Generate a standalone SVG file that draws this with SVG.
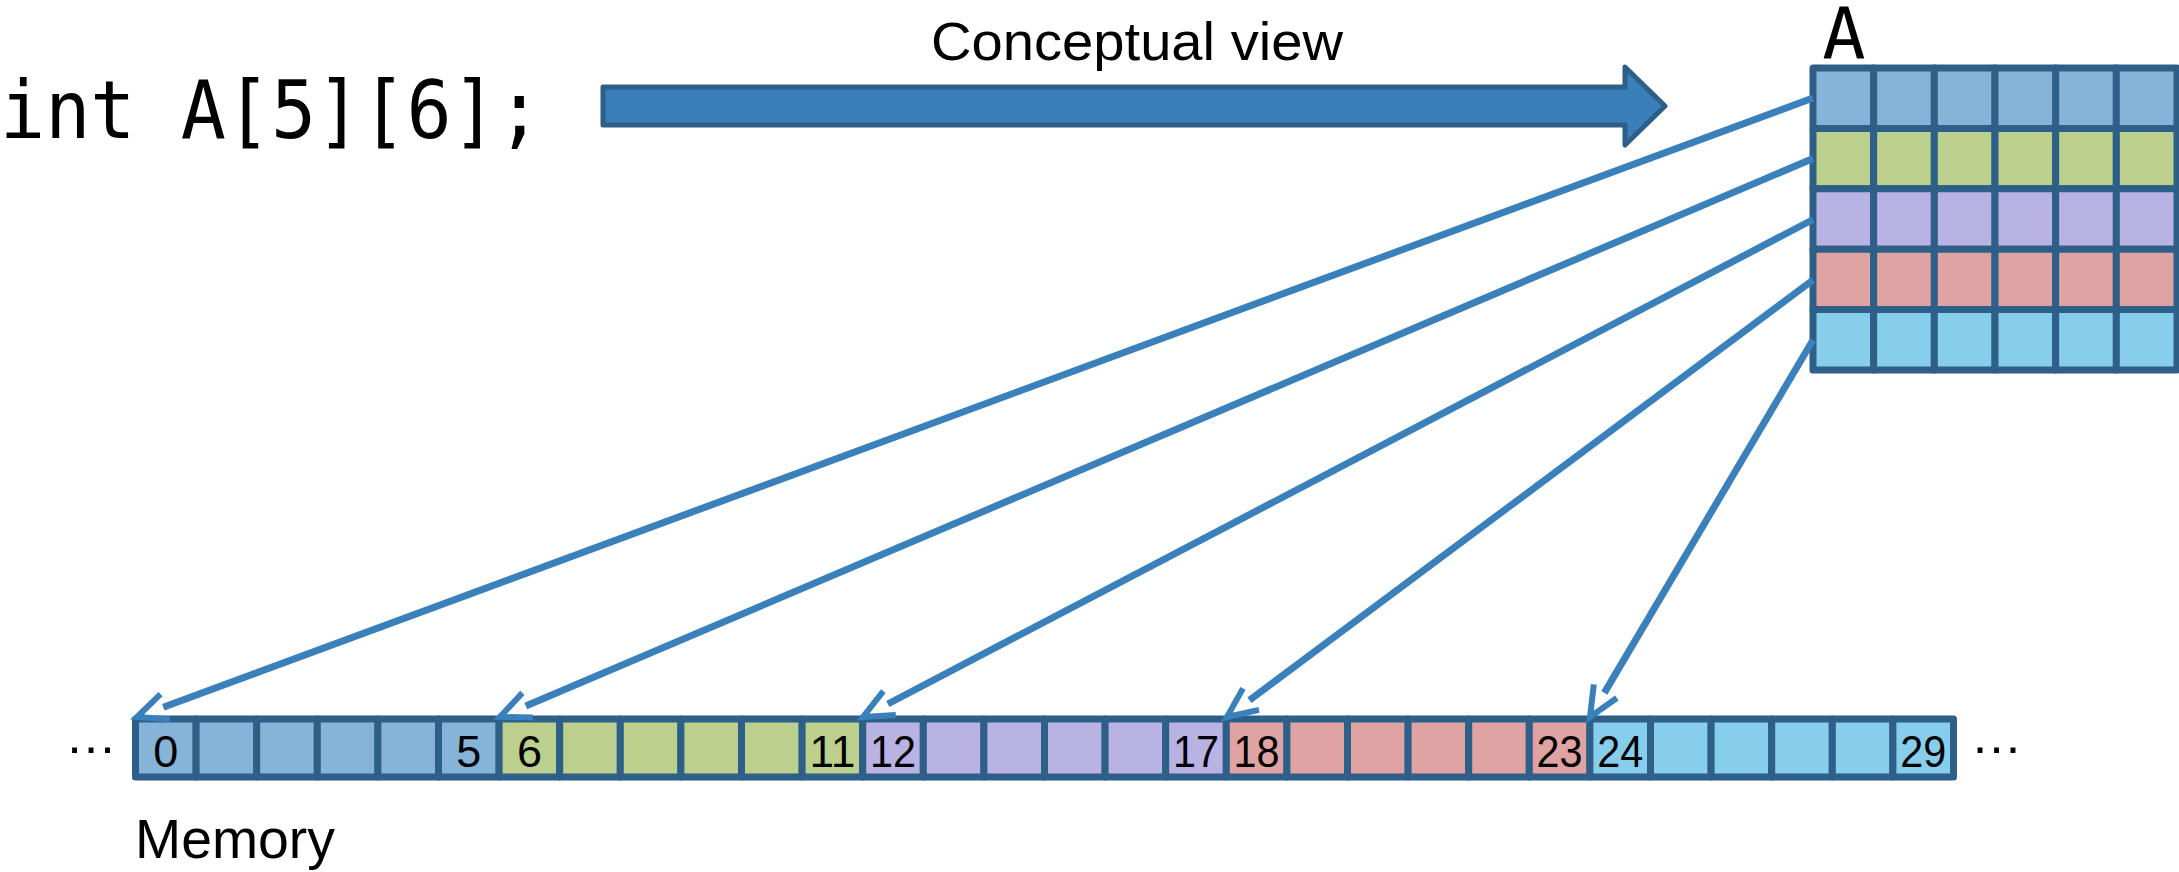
<svg xmlns="http://www.w3.org/2000/svg" width="2179" height="872" viewBox="0 0 2179 872">
<defs>
<style>
.mono{font-family:"DejaVu Sans Mono","Liberation Mono",monospace;fill:#000}
.sans{font-family:"Liberation Sans",Arial,sans-serif;fill:#000}
.num{font-family:"Liberation Sans",Arial,sans-serif;font-size:45px;text-anchor:middle;fill:#000}
.c{stroke:#2e5f88;stroke-width:7;stroke-linejoin:round}
.b{fill:#85b4d8}.g{fill:#bcd08d}.p{fill:#b8b3e2}.r{fill:#dfa3a3}.y{fill:#87ceed}
.conn{stroke:#3a80ba;stroke-width:7;fill:none;marker-end:url(#open)}
</style>
<marker id="open" markerUnits="userSpaceOnUse" orient="auto" refX="0" refY="0" markerWidth="80" markerHeight="80" overflow="visible">
<path d="M -2 -13.4 L 28 0 L -2 13.4" fill="none" stroke="#3a80ba" stroke-width="6"/>
</marker>
</defs>
<rect width="2179" height="872" fill="#fff"/>

<g id="declaration">
<text class="mono" x="0" y="138" font-size="80" textLength="542" lengthAdjust="spacingAndGlyphs">int A[5][6];</text>
</g>

<g id="conceptual-view">
<path d="M603,87 L1625,87 L1625,67 L1665,106 L1625,145 L1625,125 L603,125 Z" fill="#3a7fb9" stroke="#2e5f88" stroke-width="5" stroke-linejoin="round"/>
<text class="sans" x="1137" y="60" font-size="53" text-anchor="middle" textLength="412" lengthAdjust="spacingAndGlyphs">Conceptual view</text>
</g>

<g id="array-A">
<text class="mono" x="1844" y="59" font-size="72" text-anchor="middle">A</text>
<g class="c">
<rect class="b" x="1813" y="68" width="60.67" height="60.4"/><rect class="b" x="1873.67" y="68" width="60.67" height="60.4"/><rect class="b" x="1934.33" y="68" width="60.67" height="60.4"/><rect class="b" x="1995" y="68" width="60.67" height="60.4"/><rect class="b" x="2055.67" y="68" width="60.67" height="60.4"/><rect class="b" x="2116.33" y="68" width="60.67" height="60.4"/>
<rect class="g" x="1813" y="128.4" width="60.67" height="60.4"/><rect class="g" x="1873.67" y="128.4" width="60.67" height="60.4"/><rect class="g" x="1934.33" y="128.4" width="60.67" height="60.4"/><rect class="g" x="1995" y="128.4" width="60.67" height="60.4"/><rect class="g" x="2055.67" y="128.4" width="60.67" height="60.4"/><rect class="g" x="2116.33" y="128.4" width="60.67" height="60.4"/>
<rect class="p" x="1813" y="188.8" width="60.67" height="60.4"/><rect class="p" x="1873.67" y="188.8" width="60.67" height="60.4"/><rect class="p" x="1934.33" y="188.8" width="60.67" height="60.4"/><rect class="p" x="1995" y="188.8" width="60.67" height="60.4"/><rect class="p" x="2055.67" y="188.8" width="60.67" height="60.4"/><rect class="p" x="2116.33" y="188.8" width="60.67" height="60.4"/>
<rect class="r" x="1813" y="249.2" width="60.67" height="60.4"/><rect class="r" x="1873.67" y="249.2" width="60.67" height="60.4"/><rect class="r" x="1934.33" y="249.2" width="60.67" height="60.4"/><rect class="r" x="1995" y="249.2" width="60.67" height="60.4"/><rect class="r" x="2055.67" y="249.2" width="60.67" height="60.4"/><rect class="r" x="2116.33" y="249.2" width="60.67" height="60.4"/>
<rect class="y" x="1813" y="309.6" width="60.67" height="60.4"/><rect class="y" x="1873.67" y="309.6" width="60.67" height="60.4"/><rect class="y" x="1934.33" y="309.6" width="60.67" height="60.4"/><rect class="y" x="1995" y="309.6" width="60.67" height="60.4"/><rect class="y" x="2055.67" y="309.6" width="60.67" height="60.4"/><rect class="y" x="2116.33" y="309.6" width="60.67" height="60.4"/>
</g>
</g>

<g id="memory">
<g class="c">
<rect class="b" x="135.5" y="719" width="60.6" height="58"/><rect class="b" x="196.1" y="719" width="60.6" height="58"/><rect class="b" x="256.7" y="719" width="60.6" height="58"/><rect class="b" x="317.3" y="719" width="60.6" height="58"/><rect class="b" x="377.9" y="719" width="60.6" height="58"/><rect class="b" x="438.5" y="719" width="60.6" height="58"/>
<rect class="g" x="499.1" y="719" width="60.6" height="58"/><rect class="g" x="559.7" y="719" width="60.6" height="58"/><rect class="g" x="620.3" y="719" width="60.6" height="58"/><rect class="g" x="680.9" y="719" width="60.6" height="58"/><rect class="g" x="741.5" y="719" width="60.6" height="58"/><rect class="g" x="802.1" y="719" width="60.6" height="58"/>
<rect class="p" x="862.7" y="719" width="60.6" height="58"/><rect class="p" x="923.3" y="719" width="60.6" height="58"/><rect class="p" x="983.9" y="719" width="60.6" height="58"/><rect class="p" x="1044.5" y="719" width="60.6" height="58"/><rect class="p" x="1105.1" y="719" width="60.6" height="58"/><rect class="p" x="1165.7" y="719" width="60.6" height="58"/>
<rect class="r" x="1226.3" y="719" width="60.6" height="58"/><rect class="r" x="1286.9" y="719" width="60.6" height="58"/><rect class="r" x="1347.5" y="719" width="60.6" height="58"/><rect class="r" x="1408.1" y="719" width="60.6" height="58"/><rect class="r" x="1468.7" y="719" width="60.6" height="58"/><rect class="r" x="1529.3" y="719" width="60.6" height="58"/>
<rect class="y" x="1589.9" y="719" width="60.6" height="58"/><rect class="y" x="1650.5" y="719" width="60.6" height="58"/><rect class="y" x="1711.1" y="719" width="60.6" height="58"/><rect class="y" x="1771.7" y="719" width="60.6" height="58"/><rect class="y" x="1832.3" y="719" width="60.6" height="58"/><rect class="y" x="1892.9" y="719" width="60.6" height="58"/>
</g>
<text class="num" x="165.8" y="767">0</text>
<text class="num" x="468.8" y="767">5</text>
<text class="num" x="529.4" y="767">6</text>
<text class="num" x="832.4" y="767" textLength="46" lengthAdjust="spacingAndGlyphs">11</text>
<text class="num" x="893" y="767" textLength="46" lengthAdjust="spacingAndGlyphs">12</text>
<text class="num" x="1196" y="767" textLength="46" lengthAdjust="spacingAndGlyphs">17</text>
<text class="num" x="1256.6" y="767" textLength="46" lengthAdjust="spacingAndGlyphs">18</text>
<text class="num" x="1559.6" y="767" textLength="46" lengthAdjust="spacingAndGlyphs">23</text>
<text class="num" x="1620.2" y="767" textLength="46" lengthAdjust="spacingAndGlyphs">24</text>
<text class="num" x="1923.2" y="767" textLength="46" lengthAdjust="spacingAndGlyphs">29</text>
<text class="sans" x="91" y="753" font-size="52" text-anchor="middle">…</text>
<text class="sans" x="1996.5" y="753" font-size="52" text-anchor="middle">…</text>
<text class="sans" x="135" y="858" font-size="55" textLength="200" lengthAdjust="spacingAndGlyphs">Memory</text>
</g>

<g id="connectors">
<line class="conn" x1="1813" y1="98" x2="163.3" y2="707.3"/>
<line class="conn" x1="1813" y1="158.5" x2="525.8" y2="706"/>
<line class="conn" x1="1813" y1="219.5" x2="887.8" y2="704"/>
<line class="conn" x1="1813" y1="280" x2="1249.4" y2="700.3"/>
<line class="conn" x1="1813" y1="340" x2="1604.3" y2="692.9"/>
</g>
</svg>
